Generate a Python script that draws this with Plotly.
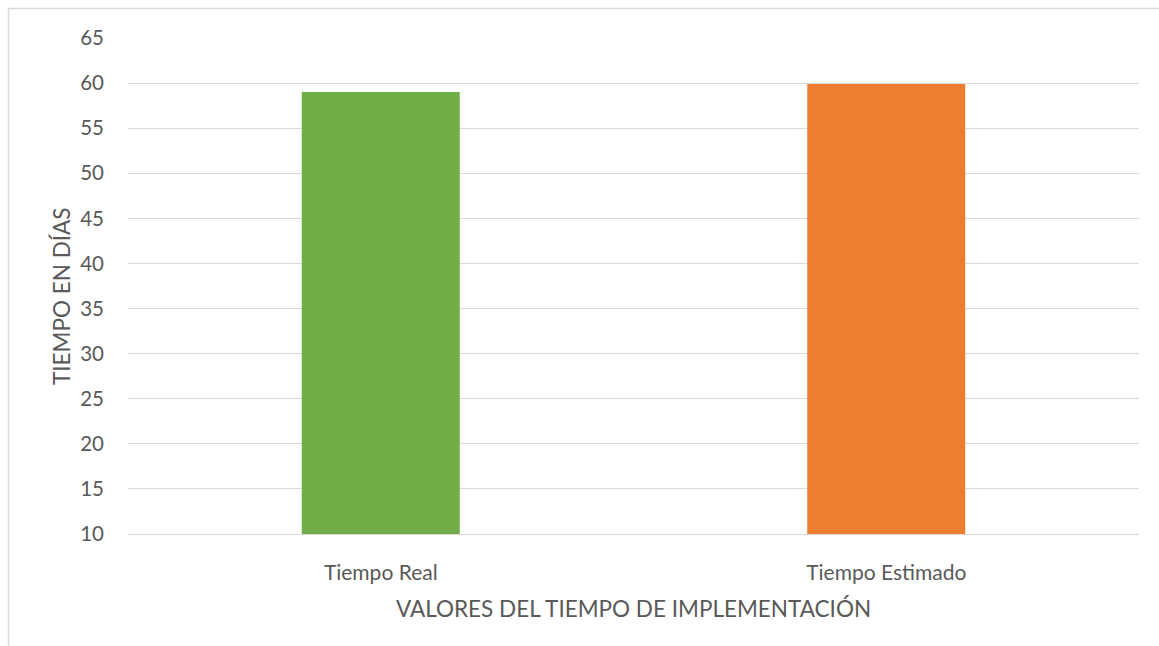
import plotly.graph_objects as go

categories = ["Tiempo Real", "Tiempo Estimado"]
dias = [59, 59.9]
colores = ["#70AD47", "#ED7D31"]
y_ticks = [10, 15, 20, 25, 30, 35, 40, 45, 50, 55, 60, 65]

W, H = 1159, 646
L, R, T, B = 128, 20, 38, 112
pw, ph = W - L - R, H - T - B

fig = go.Figure(
    go.Bar(
        x=categories,
        y=[v - 10 for v in dias],
        base=10,
        marker=dict(color=colores, line=dict(width=0)),
        width=0.3125,
        hoverinfo="x+y",
    )
)

font_family = "Lato, 'Open Sans', sans-serif"
text_color = "#595959"

fig.update_layout(
    width=W,
    height=H,
    margin=dict(l=L, r=R, t=T, b=B),
    paper_bgcolor="white",
    plot_bgcolor="white",
    showlegend=False,
    font=dict(family=font_family, color=text_color, size=20),
    xaxis=dict(
        showgrid=False,
        showline=True,
        linecolor="#d9d9d9",
        linewidth=1,
        ticks="",
        tickfont=dict(size=21),
        ticklabelstandoff=20,
        title=dict(text="VALORES DEL TIEMPO DE IMPLEMENTACIÓN", font=dict(size=22.5), standoff=18),
    ),
    yaxis=dict(
        range=[10, 65],
        tickvals=y_ticks,
        showgrid=True,
        gridcolor="#d9d9d9",
        gridwidth=1,
        zeroline=False,
        showline=False,
        ticks="",
        tickfont=dict(size=20.5),
        ticklabelstandoff=23,
        title=dict(text=""),
    ),
    annotations=[
        dict(
            text="TIEMPO EN DÍAS",
            textangle=-90,
            xref="paper",
            yref="paper",
            x=(61 - L) / pw,
            y=1 - (296 - T) / ph,
            xanchor="center",
            yanchor="middle",
            showarrow=False,
            font=dict(size=22.5, color=text_color, family=font_family),
        )
    ],
    shapes=[
        # outer chart frame, partly outside the visible page
        dict(
            type="rect",
            xref="paper",
            yref="paper",
            x0=(8.5 - L) / pw,
            y0=-0.5,
            x1=1.2,
            y1=1 + (T - 8.5) / ph,
            line=dict(color="#d9d9d9", width=1.5),
            fillcolor="rgba(0,0,0,0)",
            layer="below",
        )
    ],
)

fig.write_html("out.html")
